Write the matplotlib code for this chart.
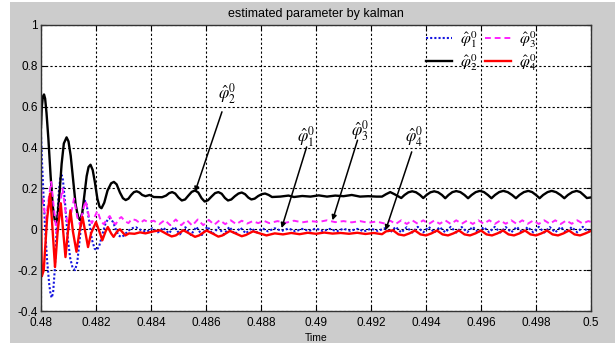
import numpy as np
import matplotlib
matplotlib.use('Agg')
import matplotlib.pyplot as plt
from matplotlib.patches import Rectangle

plt.rcParams['font.family'] = ['Liberation Sans', 'DejaVu Sans']
plt.rcParams['mathtext.fontset'] = 'stix'

# ---- data: (time, value) knots ----
phi1_pts = [
    (0.48000, 0.47), (0.48003, 0.35), (0.48008, 0.20), (0.48015, 0.00), (0.48022, -0.15),
    (0.48030, -0.27), (0.48035, -0.32), (0.48039, -0.335), (0.48044, -0.31), (0.48050, -0.20),
    (0.48057, 0.00), (0.48064, 0.17), (0.48070, 0.25), (0.48075, 0.265), (0.48080, 0.24),
    (0.48088, 0.12), (0.48097, -0.04), (0.48106, -0.14), (0.48115, -0.19), (0.48124, -0.20),
    (0.48132, -0.16), (0.48140, -0.06), (0.48148, 0.05), (0.48155, 0.12), (0.48160, 0.14),
    (0.48166, 0.12), (0.48175, 0.04), (0.48185, -0.05), (0.48195, -0.095), (0.48203, -0.102),
    (0.48212, -0.08), (0.48222, -0.03), (0.48235, 0.03), (0.48245, 0.052), (0.48252, 0.054),
    (0.48262, 0.035), (0.48272, 0.000), (0.48282, -0.03), (0.48292, -0.038), (0.48302, -0.03),
    (0.48315, -0.01), (0.48330, 0.005), (0.48345, 0.010), (0.48365, -0.005),
    (0.48385, -0.012), (0.48405, 0.005), (0.48425, -0.015), (0.48445, 0.008), (0.48465, -0.020),
    (0.48485, 0.012), (0.48505, -0.025), (0.48525, 0.010), (0.48545, -0.028), (0.48565, 0.012),
    (0.48585, -0.028), (0.48605, 0.014), (0.48625, -0.025), (0.48645, 0.010), (0.48665, -0.026),
    (0.48685, 0.012), (0.48705, -0.024), (0.48725, 0.008), (0.48745, -0.020), (0.48765, 0.005),
    (0.48785, -0.015), (0.48805, 0.005), (0.48825, -0.010), (0.48850, 0.005), (0.48875, -0.008),
    (0.48900, 0.004), (0.48925, -0.010), (0.48950, 0.002), (0.48975, -0.008), (0.49000, 0.004),
    (0.49025, -0.009), (0.49050, 0.002), (0.49075, -0.010), (0.49100, 0.003), (0.49125, -0.008),
    (0.49150, 0.002), (0.49175, -0.010), (0.49200, 0.003), (0.49225, -0.008), (0.49250, 0.005),
    (0.49270, -0.015), (0.49290, 0.012), (0.49310, -0.016), (0.49330, 0.010), (0.49350, -0.016),
    (0.49370, 0.012), (0.49390, -0.015), (0.49410, 0.012), (0.49430, -0.016), (0.49450, 0.011),
    (0.49470, -0.015), (0.49490, 0.012), (0.49510, -0.016), (0.49530, 0.011), (0.49550, -0.014),
    (0.49570, 0.012), (0.49590, -0.016), (0.49610, 0.011), (0.49630, -0.015), (0.49650, 0.012),
    (0.49670, -0.016), (0.49690, 0.011), (0.49710, -0.015), (0.49730, 0.012), (0.49750, -0.016),
    (0.49770, 0.011), (0.49790, -0.015), (0.49810, 0.012), (0.49830, -0.016), (0.49850, 0.011),
    (0.49870, -0.015), (0.49890, 0.012), (0.49910, -0.016), (0.49930, 0.011), (0.49950, -0.015),
    (0.49970, 0.012), (0.49990, -0.012), (0.50000, 0.000),
]

phi2_pts = [
    (0.48000, 0.50), (0.48003, 0.60), (0.48007, 0.65), (0.48011, 0.66), (0.48015, 0.64),
    (0.48020, 0.57), (0.48027, 0.44), (0.48035, 0.26), (0.48043, 0.11), (0.48050, 0.045),
    (0.48055, 0.035), (0.48060, 0.06), (0.48067, 0.17), (0.48075, 0.32), (0.48083, 0.42),
    (0.48093, 0.45), (0.48100, 0.43), (0.48108, 0.36), (0.48117, 0.24), (0.48126, 0.12),
    (0.48135, 0.06), (0.48142, 0.045), (0.48150, 0.08), (0.48158, 0.17), (0.48166, 0.26),
    (0.48173, 0.305), (0.48180, 0.316), (0.48188, 0.29), (0.48196, 0.23), (0.48205, 0.15),
    (0.48213, 0.11), (0.48220, 0.103), (0.48230, 0.13), (0.48242, 0.19), (0.48255, 0.225),
    (0.48265, 0.232), (0.48275, 0.22), (0.48287, 0.18), (0.48298, 0.152), (0.48308, 0.143),
    (0.48318, 0.15), (0.48328, 0.168), (0.48338, 0.182), (0.48348, 0.186), (0.48358, 0.18),
    (0.48368, 0.168), (0.48380, 0.162), (0.48395, 0.168), (0.48410, 0.158), (0.48440, 0.157),
    (0.48455, 0.165), (0.48466, 0.177), (0.48477, 0.182), (0.48488, 0.175), (0.48500, 0.155),
    (0.48512, 0.141), (0.48524, 0.146), (0.48536, 0.165), (0.48548, 0.183), (0.48560, 0.190),
    (0.48572, 0.180), (0.48584, 0.152), (0.48595, 0.136), (0.48607, 0.142), (0.48620, 0.160),
    (0.48633, 0.177), (0.48645, 0.182), (0.48657, 0.174), (0.48669, 0.153), (0.48680, 0.141),
    (0.48692, 0.146), (0.48705, 0.162), (0.48718, 0.175), (0.48730, 0.180), (0.48742, 0.172),
    (0.48754, 0.155), (0.48765, 0.146), (0.48777, 0.150), (0.48790, 0.163), (0.48803, 0.172),
    (0.48815, 0.175), (0.48828, 0.168), (0.48840, 0.158), (0.48870, 0.160), (0.48900, 0.165),
    (0.48920, 0.158), (0.48950, 0.163), (0.48980, 0.160), (0.49010, 0.166), (0.49040, 0.160),
    (0.49070, 0.165), (0.49100, 0.162), (0.49130, 0.168), (0.49160, 0.160), (0.49190, 0.162),
    (0.49220, 0.160), (0.49240, 0.160), (0.49255, 0.172), (0.49270, 0.182), (0.49285, 0.172),
    (0.49310, 0.153), (0.49322, 0.168), (0.49336, 0.181), (0.49350, 0.186), (0.49364, 0.181),
    (0.49378, 0.168), (0.49390, 0.153), (0.49402, 0.168), (0.49416, 0.181), (0.49430, 0.186),
    (0.49444, 0.181), (0.49458, 0.168), (0.49470, 0.152), (0.49482, 0.168), (0.49496, 0.182),
    (0.49510, 0.187), (0.49525, 0.182), (0.49540, 0.168), (0.49553, 0.152), (0.49566, 0.168),
    (0.49581, 0.182), (0.49596, 0.188), (0.49611, 0.182), (0.49625, 0.168), (0.49638, 0.152),
    (0.49651, 0.168), (0.49666, 0.182), (0.49681, 0.188), (0.49697, 0.182), (0.49713, 0.168),
    (0.49727, 0.152), (0.49740, 0.168), (0.49756, 0.182), (0.49772, 0.188), (0.49786, 0.182),
    (0.49800, 0.168), (0.49813, 0.152), (0.49826, 0.168), (0.49842, 0.182), (0.49857, 0.188),
    (0.49873, 0.182), (0.49889, 0.168), (0.49903, 0.152), (0.49916, 0.168), (0.49932, 0.182),
    (0.49948, 0.188), (0.49961, 0.182), (0.49973, 0.168), (0.49985, 0.153), (0.50000, 0.156),
]

phi3_pts = [
    (0.48000, 0.20), (0.48008, 0.12), (0.48018, 0.05), (0.48028, 0.15), (0.48037, 0.232),
    (0.48047, 0.10), (0.48057, -0.02), (0.48067, 0.10), (0.48078, 0.20), (0.48090, 0.08),
    (0.48100, 0.00), (0.48110, 0.08), (0.48120, 0.15), (0.48132, 0.06), (0.48142, 0.02),
    (0.48152, 0.09), (0.48162, 0.14), (0.48175, 0.06), (0.48185, 0.03), (0.48195, 0.06),
    (0.48205, 0.09), (0.48218, 0.04), (0.48228, 0.025), (0.48240, 0.05), (0.48250, 0.065),
    (0.48262, 0.035), (0.48272, 0.025), (0.48282, 0.05), (0.48292, 0.06), (0.48305, 0.04),
    (0.48318, 0.03), (0.48330, 0.05), (0.48345, 0.045), (0.48360, 0.03), (0.48375, 0.045),
    (0.48390, 0.035), (0.48410, 0.042), (0.48430, 0.025), (0.48450, 0.045), (0.48470, 0.020),
    (0.48490, 0.048), (0.48510, 0.020), (0.48530, 0.045), (0.48550, 0.018), (0.48570, 0.048),
    (0.48590, 0.020), (0.48610, 0.046), (0.48630, 0.022), (0.48650, 0.045), (0.48670, 0.025),
    (0.48690, 0.044), (0.48710, 0.025), (0.48730, 0.042), (0.48750, 0.028), (0.48770, 0.040),
    (0.48790, 0.030), (0.48810, 0.042), (0.48830, 0.030), (0.48860, 0.040), (0.48890, 0.032),
    (0.48920, 0.042), (0.48950, 0.034), (0.48980, 0.040), (0.49010, 0.036), (0.49040, 0.044),
    (0.49070, 0.035), (0.49100, 0.040), (0.49130, 0.034), (0.49160, 0.040), (0.49190, 0.032),
    (0.49220, 0.038), (0.49250, 0.028), (0.49270, 0.042), (0.49290, 0.026), (0.49310, 0.044),
    (0.49330, 0.026), (0.49350, 0.044), (0.49370, 0.027), (0.49390, 0.044), (0.49410, 0.026),
    (0.49430, 0.043), (0.49450, 0.027), (0.49470, 0.044), (0.49490, 0.026), (0.49510, 0.044),
    (0.49530, 0.027), (0.49550, 0.043), (0.49570, 0.026), (0.49590, 0.044), (0.49610, 0.027),
    (0.49630, 0.044), (0.49650, 0.026), (0.49670, 0.043), (0.49690, 0.027), (0.49710, 0.044),
    (0.49730, 0.026), (0.49750, 0.044), (0.49770, 0.027), (0.49790, 0.043), (0.49810, 0.026),
    (0.49830, 0.044), (0.49850, 0.027), (0.49870, 0.044), (0.49890, 0.026), (0.49910, 0.043),
    (0.49930, 0.027), (0.49950, 0.044), (0.49970, 0.028), (0.49990, 0.040), (0.50000, 0.036),
]

phi4_pts = [
    (0.48000, 0.15), (0.48003, -0.23), (0.48010, -0.20), (0.48022, 0.05), (0.48033, 0.175),
    (0.48042, 0.00), (0.48051, -0.185), (0.48060, -0.02), (0.48072, 0.127), (0.48080, 0.00),
    (0.48089, -0.136), (0.48098, -0.01), (0.48107, 0.093), (0.48116, -0.01), (0.48129, -0.11),
    (0.48140, -0.01), (0.48151, 0.06), (0.48162, -0.02), (0.48171, -0.087), (0.48182, -0.02),
    (0.48200, 0.035), (0.48212, -0.01), (0.48223, -0.054), (0.48235, -0.01), (0.48243, 0.011),
    (0.48255, -0.02), (0.48264, -0.037), (0.48277, -0.01), (0.48287, 0.000), (0.48300, -0.02),
    (0.48307, -0.030), (0.48320, -0.02), (0.48340, -0.022), (0.48360, -0.015), (0.48380, -0.020),
    (0.48410, -0.010), (0.48433, -0.005), (0.48460, -0.025), (0.48475, -0.035), (0.48490, -0.030),
    (0.48518, -0.005), (0.48545, -0.025), (0.48560, -0.037), (0.48575, -0.030), (0.48602, -0.006),
    (0.48630, -0.025), (0.48645, -0.036), (0.48660, -0.030), (0.48687, -0.008), (0.48715, -0.025),
    (0.48730, -0.034), (0.48745, -0.028), (0.48771, -0.010), (0.48800, -0.022), (0.48820, -0.030),
    (0.48850, -0.020), (0.48880, -0.025), (0.48910, -0.018), (0.48940, -0.024), (0.48970, -0.017),
    (0.49000, -0.022), (0.49030, -0.016), (0.49060, -0.021), (0.49090, -0.018), (0.49120, -0.022),
    (0.49150, -0.017), (0.49180, -0.023), (0.49210, -0.018), (0.49240, -0.024), (0.49255, -0.010),
    (0.49280, -0.005), (0.49300, -0.025), (0.49320, -0.030), (0.49340, -0.020), (0.49360, -0.006),
    (0.49380, -0.025), (0.49400, -0.030), (0.49420, -0.020), (0.49440, -0.006), (0.49460, -0.025),
    (0.49480, -0.030), (0.49500, -0.020), (0.49520, -0.006), (0.49540, -0.025), (0.49560, -0.030),
    (0.49580, -0.020), (0.49600, -0.006), (0.49620, -0.025), (0.49640, -0.030), (0.49660, -0.020),
    (0.49680, -0.006), (0.49700, -0.025), (0.49720, -0.030), (0.49740, -0.020), (0.49760, -0.006),
    (0.49780, -0.025), (0.49800, -0.030), (0.49820, -0.020), (0.49840, -0.006), (0.49860, -0.025),
    (0.49880, -0.030), (0.49900, -0.020), (0.49920, -0.006), (0.49940, -0.025), (0.49960, -0.030),
    (0.49980, -0.020), (0.50000, -0.008),
]

labels = [r'$\hat{\varphi}_1^0$', r'$\hat{\varphi}_2^0$', r'$\hat{\varphi}_3^0$', r'$\hat{\varphi}_4^0$']

xticks = [0.48, 0.482, 0.484, 0.486, 0.488, 0.49, 0.492, 0.494, 0.496, 0.498, 0.5]
xticklabels = ['0.48', '0.482', '0.484', '0.486', '0.488', '0.49', '0.492', '0.494', '0.496', '0.498', '0.5']
yticks = [-0.4, -0.2, 0, 0.2, 0.4, 0.6, 0.8, 1]
yticklabels = ['-0.4', '-0.2', '0', '0.2', '0.4', '0.6', '0.8', '1']

# annotation: label position, arrow start, arrow tip (data units)
ann_label = [(0.48963, 0.452), (0.48675, 0.665), (0.49160, 0.485), (0.49355, 0.452)]
ann_start = [(0.48966, 0.403), (0.48658, 0.575), (0.49151, 0.436), (0.49348, 0.379)]
ann_tip = [(0.48875, 0.006), (0.48560, 0.183), (0.49060, 0.044), (0.49253, -0.005)]

fig = plt.figure(figsize=(6.15, 3.43), dpi=100)
fig.patch.set_facecolor('white')
fig.patches.append(Rectangle((10 / 615, 0), 1, 1 - 2 / 343, transform=fig.transFigure,
                             facecolor='#cccccc', edgecolor='none', zorder=-10))

ax = fig.add_axes([41 / 615, 1 - 311 / 343, 550 / 615, 286 / 343])
ax.set_facecolor('white')

styles = [dict(color='#1515e0', ls=(0, (1, 1)), lw=1.5),
          dict(color='black', ls='-', lw=1.7),
          dict(color='#ff20ff', ls=(0, (3, 2)), lw=1.4),
          dict(color='#ff0000', ls='-', lw=1.7)]

lines = []
for pts, lab, st in zip([phi1_pts, phi2_pts, phi3_pts, phi4_pts], labels, styles):
    t, v = np.array(pts).T
    ln, = ax.plot(t, v, label=lab, **st)
    lines.append(ln)

for lp, sp, tp, lab in zip(ann_label, ann_start, ann_tip, labels):
    ax.annotate('', xy=tp, xytext=sp,
                arrowprops=dict(arrowstyle='-|>', color='black', lw=1.1,
                                mutation_scale=7, shrinkA=0, shrinkB=0))
    ax.text(lp[0], lp[1], lab, fontsize=12, ha='center', va='center')

ax.set_xlim(0.48, 0.5)
ax.set_ylim(-0.4, 1)
ax.set_xticks(xticks)
ax.set_xticklabels(xticklabels)
ax.set_yticks(yticks)
ax.set_yticklabels(yticklabels)
ax.tick_params(direction='in', length=3.5, labelsize=8.5, top=True, right=True)
ax.tick_params(axis='x', pad=4)
ax.tick_params(axis='y', pad=2.5)
ax.grid(True, color='black', linestyle=(0, (2, 2)), lw=0.8)
for s in ax.spines.values():
    s.set_color('#333333')
    s.set_linewidth(1.0)

ax.set_title('estimated parameter by kalman', fontsize=9, pad=6)
ax.set_xlabel('Time', fontsize=7.5, labelpad=3)

ax.legend(handles=lines, ncol=2, loc='upper left', bbox_to_anchor=(0.68, 1.025),
          frameon=False, fontsize=11.5, handlelength=1.6, columnspacing=0.5,
          handletextpad=0.5, labelspacing=0.15, borderpad=0.2)

fig.savefig('out.png', dpi=100)
